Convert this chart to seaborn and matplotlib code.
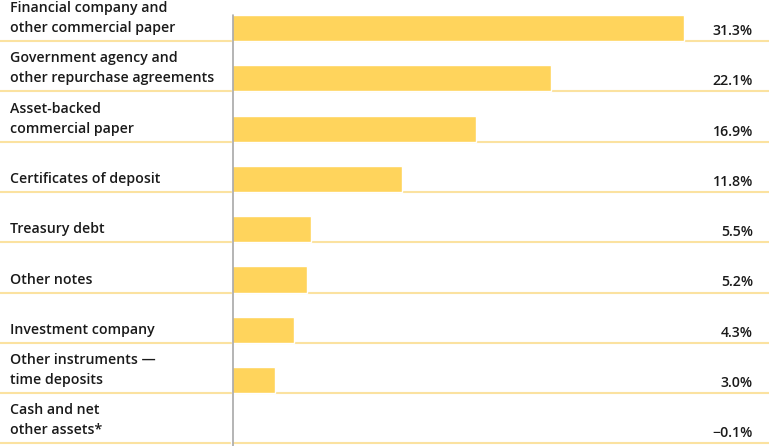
import numpy as np
import pandas as pd
import matplotlib
matplotlib.use("Agg")
import matplotlib.pyplot as plt
import seaborn as sns

# data
categories = [
    "Financial company and\nother commercial paper",
    "Government agency and\nother repurchase agreements",
    "Asset-backed\ncommercial paper",
    "Certificates of deposit",
    "Treasury debt",
    "Other notes",
    "Investment company",
    "Other instruments \u2014\ntime deposits",
    "Cash and net\nother assets*",
]
values = [31.3, 22.1, 16.9, 11.8, 5.5, 5.2, 4.3, 3.0, -0.1]
value_labels = ["31.3%", "22.1%", "16.9%", "11.8%", "5.5%", "5.2%", "4.3%", "3.0%", "\u22120.1%"]

bar_color = "#FFD45C"
rule_color = "#FBE2A0"
text_color = "#1A1A1A"

sns.set_style("white")
plt.rcParams["font.family"] = ["Open Sans", "DejaVu Sans"]

df = pd.DataFrame({"category": categories, "value": values})

fig = plt.figure(figsize=(7.69, 4.46), dpi=100)
ax = fig.add_axes([0, 0, 1, 1])

row_h = 50.3  # pixels per row
bar_w = 26 / row_h
sns.barplot(data=df, x="value", y="category", orient="h", color=bar_color,
            width=bar_w, saturation=1, ax=ax, zorder=2)

ax.set_xlim(-232 / 14.44, 537 / 14.44)
ax.set_ylim((446 - 28) / row_h, -28 / row_h)

# row rules under each bar
for i in range(len(categories)):
    ax.axhline(i + bar_w / 2, color=rule_color, lw=1.5, zorder=0)

# zero line, nudged right so the tiny negative bar shows to its left
ax.plot([0.05, 0.05], [-bar_w / 2, 20], color="#A8A8A8", lw=1.2, zorder=3)

# labels
line_step = 20 / row_h
for i, (cat, lab) in enumerate(zip(categories, value_labels)):
    lines = cat.split("\n")
    n = len(lines)
    for j, ln in enumerate(lines):
        y = i - line_step * (n - 1 - j)
        ax.text(10 / 769, y, ln, transform=ax.get_yaxis_transform(),
                ha="left", va="center", fontsize=10.2, fontweight="semibold",
                color=text_color)
    ax.text(753 / 769, i + 3 / row_h, lab, transform=ax.get_yaxis_transform(),
            ha="right", va="center", fontsize=10.2, fontweight="semibold",
            color=text_color)

ax.set_xlabel("")
ax.set_ylabel("")
ax.set_xticks([])
ax.set_yticks([])
for s in ax.spines.values():
    s.set_visible(False)

fig.savefig("out.png", dpi=100)
